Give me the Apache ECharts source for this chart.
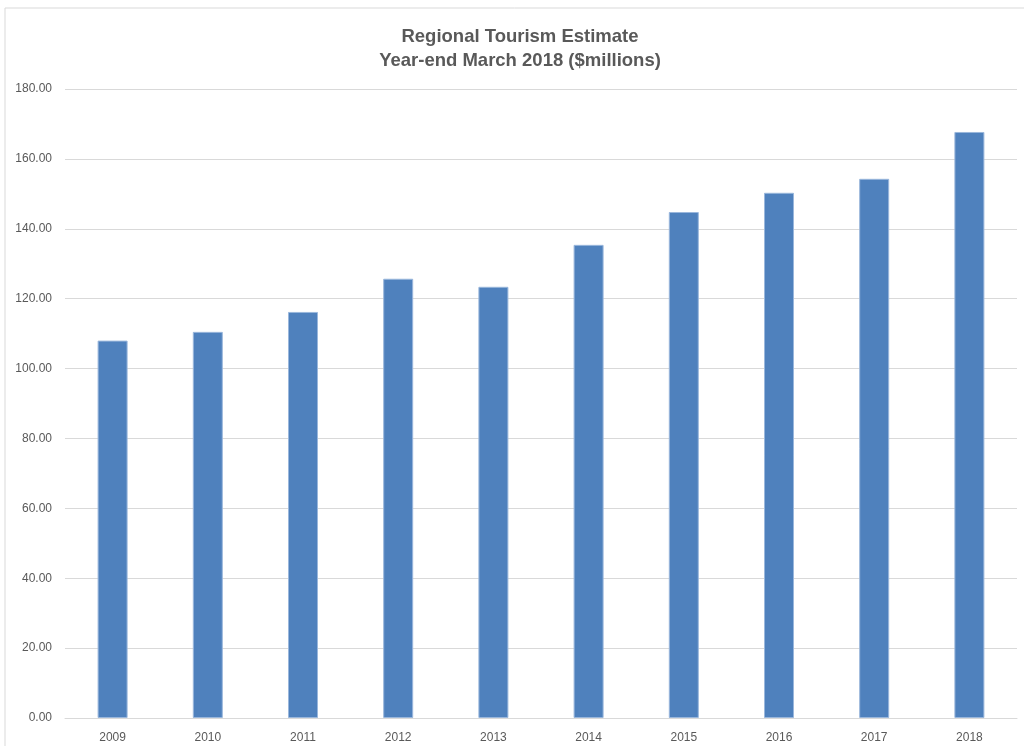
<!DOCTYPE html>
<html>
<head>
<meta charset="utf-8">
<script src="https://cdn.jsdelivr.net/npm/echarts@6/dist/echarts.min.js"></script>
<style>
  html, body { margin: 0; padding: 0; background: #fff; }
  #chart { width: 1024px; height: 746px; }
</style>
</head>
<body>
<div id="chart"></div>
<script>
// Regional tourism spend, year-end March, in $ millions
const years = ['2009', '2010', '2011', '2012', '2013', '2014', '2015', '2016', '2017', '2018'];
const spend = [108.0, 110.5, 116.2, 125.7, 123.4, 135.4, 144.8, 150.3, 154.3, 167.7];
const titleLines = ['Regional Tourism Estimate', 'Year-end March 2018 ($millions)'];

const FONT = '"Liberation Sans", sans-serif';
const TEXT = '#595959';

const chart = echarts.init(document.getElementById('chart'), null, { renderer: 'canvas' });

chart.setOption({
  animation: false,
  backgroundColor: '#ffffff',
  title: {
    text: titleLines.join('\n'),
    left: 515,
    textAlign: 'center',
    top: 20,
    textStyle: {
      fontFamily: FONT,
      fontSize: 18.5,
      fontWeight: 'bold',
      color: TEXT,
      lineHeight: 24
    }
  },
  graphic: [
    // outer chart frame (top and left edges)
    { type: 'line', shape: { x1: 5, y1: 8, x2: 1024, y2: 8 }, style: { stroke: '#d9d9d9', lineWidth: 1 } },
    { type: 'line', shape: { x1: 5, y1: 8, x2: 5, y2: 746 }, style: { stroke: '#d9d9d9', lineWidth: 1 } }
  ],
  grid: { left: 65, right: 7, top: 89, bottom: 28, containLabel: false },
  xAxis: {
    type: 'category',
    data: years,
    axisLine: { show: true, lineStyle: { color: '#d9d9d9', width: 1 } },
    axisTick: { show: false },
    axisLabel: { color: TEXT, fontFamily: FONT, fontSize: 12, margin: 14 }
  },
  yAxis: {
    type: 'value',
    min: 0,
    max: 180,
    interval: 20,
    axisLine: { show: false },
    axisTick: { show: false },
    splitLine: { lineStyle: { color: '#d9d9d9', width: 1 } },
    axisLabel: {
      color: TEXT,
      fontFamily: FONT,
      fontSize: 12,
      margin: 13,
      formatter: v => v.toFixed(2)
    }
  },
  series: [{
    type: 'bar',
    data: spend,
    barWidth: 30,
    itemStyle: { color: '#4f81bd', borderColor: '#9ab7dc', borderWidth: 1 }
  }]
});
</script>
</body>
</html>
